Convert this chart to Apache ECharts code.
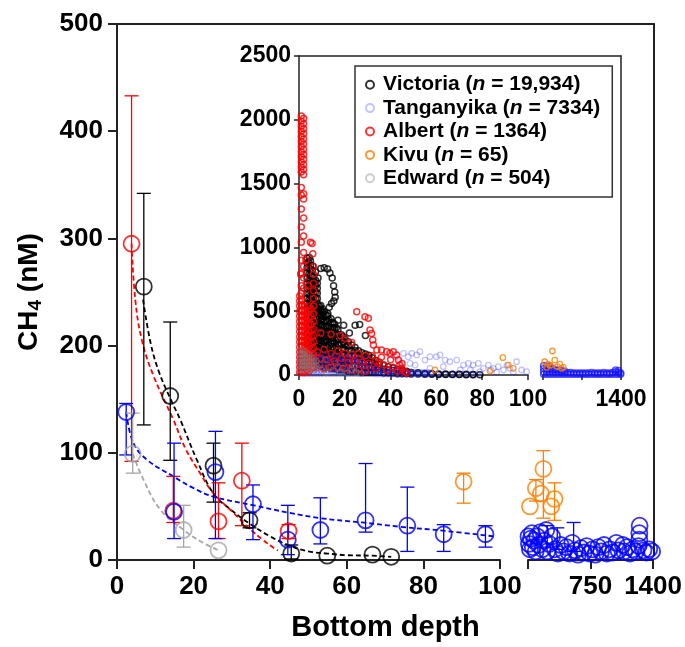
<!DOCTYPE html>
<html>
<head>
<meta charset="utf-8">
<script src="https://cdn.jsdelivr.net/npm/echarts@6/dist/echarts.min.js"></script>
<style>
  html, body { margin: 0; padding: 0; background: #fff; }
  #chart { width: 685px; height: 647px; }
</style>
</head>
<body>
<div id="chart"></div>
<script>
const FONT = "'Liberation Sans', Arial, sans-serif";

// ---- main panel: means (depth bin, CH4) ----
const victoriaMeans = [[7, 255], [13.9, 153], [25.2, 88], [34.6, 37], [45.5, 6], [54.9, 4], [66.7, 5], [71.6, 3]];
const victoriaErr = [[7, 126, 342], [13.9, 93, 222], [25.2, 54, 109], [34.6, 30, 44], [45.5, 1, 14]];
const victoriaFit = [[6.8, 243], [8.8, 202], [11, 175], [14, 150], [16.5, 131], [20.9, 93], [25.2, 62], [30.4, 45], [34.6, 34], [40, 22], [45.3, 13], [50, 8], [55, 6], [60, 4.5], [66.7, 4], [71.6, 3]];

const albertMeans = [[3.8, 295], [14.7, 46], [26.5, 36], [32.6, 74], [44.8, 27]];
const albertErr = [[3.8, 92, 433], [14.7, 35, 78], [26.5, 20, 72], [32.6, 32, 109], [44.8, 20, 33]];
const albertFit = [[3.8, 295], [4.8, 242], [6.5, 205], [9.5, 172], [14.7, 131], [18, 103], [21.7, 81], [25, 63], [30.4, 44], [35, 28], [38, 19], [41, 11], [42, 9]];

const tanganyikaMeans = [[2.4, 138], [14.9, 45], [25.7, 82], [35.5, 52], [44.6, 19], [53.1, 28], [64.9, 37], [75.8, 32], [85.3, 24], [96.2, 24]];
const tanganyikaErr = [[2.4, 98, 146], [14.9, 20, 109], [25.7, 20, 120], [35.5, 19, 70], [44.6, 5, 51], [53.1, 15, 58], [64.9, 26, 90], [75.8, 8, 68], [85.3, 8, 33], [96.2, 12, 32]];
const tanganyikaFit = [[2.4, 138], [4.3, 109], [8, 93], [14.7, 78], [20, 67], [25.2, 59], [35.7, 51], [45, 44], [53.1, 39], [64, 35], [74, 31], [86, 27], [98.5, 22]];
const tanganyikaFarMeans = [[105, 22], [110, 15], [120, 10], [130, 20], [140, 25], [150, 12], [165, 18], [180, 8], [195, 22], [210, 14], [230, 26], [250, 10], [270, 18], [290, 28], [300, 8], [320, 15], [350, 22], [380, 10], [410, 6], [440, 14], [470, 8], [500, 12], [530, 6], [560, 16], [590, 9], [620, 5], [650, 11], [680, 7], [710, 13], [740, 6], [770, 10], [800, 5], [830, 12], [860, 8], [890, 14], [920, 6], [950, 10], [980, 7], [1018, 16], [1040, 9], [1086, 14], [1100, 8], [1130, 12], [1160, 6], [1190, 10], [1220, 8], [1250, 13], [1257, 19], [1257, 25], [1260, 32], [1300, 9], [1330, 7], [1360, 10], [1390, 8]];
const tanganyikaFarErr = [[300, 12, 32], [404, 10, 30], [574, 8, 35]];

const edwardMeans = [[4.1, 99], [17.4, 28], [26.5, 9]];
const edwardErr = [[4.1, 81, 137], [17.4, 12, 51]];
const edwardFit = [[4.1, 99], [6.9, 75], [11.3, 47], [17.4, 28], [22, 17], [26.5, 9]];

const kivuMeans = [[90.5, 73]];
const kivuErr = [[90.5, 53, 81]];
const kivuFarMeans = [[120, 50], [182, 67], [233, 62], [260, 85], [342, 50], [376, 57]];
const kivuFarErr = [[260, 39, 102], [182, 55, 75], [376, 37, 72]];

// ---- inset: individual samples ----
const victoriaInsetCols = [
  [3.5, [120, 160, 200, 240, 280, 320, 360, 400, 440, 480, 520, 560, 600, 640, 680, 720, 760, 800, 840, 880, 915]],
  [4.3, [140, 190, 240, 290, 340, 390, 440, 490, 540, 590, 640, 690, 740, 790, 840, 880]],
  [5, [100, 140, 180, 220, 260, 300, 340, 380, 420, 460, 500, 540, 580, 620, 660, 700, 740, 780, 820, 860, 895]],
  [5.8, [120, 170, 220, 270, 320, 370, 420, 470, 520, 570, 620, 670, 720, 770, 820]],
  [6.5, [90, 130, 170, 210, 250, 290, 330, 370, 410, 450, 490, 530, 570, 610, 650, 690, 730, 770]],
  [7.3, [100, 150, 200, 250, 300, 350, 400, 450, 500, 550, 600, 650, 700, 740]],
  [8, [80, 120, 160, 200, 240, 280, 320, 360, 400, 440, 480, 520, 560, 600, 640, 680, 720]],
  [8.8, [100, 150, 200, 250, 300, 350, 400, 450, 500, 540]],
  [9.5, [70, 110, 150, 190, 230, 270, 310, 350, 390, 430, 470, 510, 545]],
  [10.2, [90, 140, 190, 240, 290, 340, 390, 440, 490, 520]],
  [11, [60, 100, 140, 180, 220, 260, 300, 340, 380, 420, 460, 495]],
  [11.8, [80, 130, 180, 230, 280, 330, 380, 430, 470]],
  [12.5, [60, 100, 140, 180, 220, 260, 300, 340, 380, 420, 465]],
  [13.2, [80, 130, 180, 230, 280, 330, 380, 430]],
  [14, [50, 90, 130, 170, 210, 250, 290, 330, 370, 410, 440]],
  [14.8, [70, 120, 170, 220, 270, 320, 370, 410]],
  [15.5, [50, 90, 130, 170, 210, 250, 290, 330, 370, 400]],
  [16.3, [70, 120, 170, 220, 270, 320, 370]],
  [17, [40, 80, 120, 160, 200, 240, 280, 320, 355]],
  [18.5, [40, 80, 120, 160, 200, 240, 280, 315]],
  [19.3, [60, 110, 160, 210, 260, 300]],
  [20, [40, 80, 120, 160, 200, 240, 285]],
  [21.5, [30, 70, 110, 150, 190, 230, 260]],
  [23, [30, 70, 110, 150, 190, 235]],
  [24.5, [30, 70, 110, 150, 190, 215]],
  [26, [30, 70, 110, 150, 190]],
  [27.5, [20, 60, 100, 140, 175]],
  [29, [20, 60, 100, 140, 165]],
  [30.5, [20, 60, 100, 130, 155]],
  [32, [20, 60, 100, 135]],
  [33.5, [20, 50, 80, 115]],
  [35, [20, 50, 80, 100]],
  [37, [15, 45, 75]],
  [39, [15, 40, 65]],
  [41, [15, 35, 55]],
  [43, [10, 30, 45]],
  [45, [10, 25, 40]],
  [47, [10, 20, 30]],
  [49, [8, 20]], [52, [8, 18]], [55, [5, 12]], [58, [5, 10]], [61, [4, 8]], [64, [4, 8]],
  [67, [3, 6]], [70, [3, 6]], [73, [2, 5]], [76, [2, 4]], [79, [2]]
];
const victoriaInsetSparse = [[4.5, 920], [6, 855], [7.2, 810], [8.3, 760], [9.5, 835], [11, 840], [12.5, 830], [13.5, 800], [14.5, 760], [15.1, 700], [15.6, 650], [15.8, 610], [15.2, 580], [14.2, 560], [13.2, 530], [12.6, 480], [17, 430], [19.5, 390], [24.5, 390], [26.5, 395], [29, 310], [22, 330]];

const albertInsetCols = [
  [0.3, [20, 60, 100, 140, 180, 220, 260, 300, 340, 380, 420, 460, 500, 540, 580, 620]],
  [1.3, [30, 70, 110, 150, 190, 230, 270, 310, 350, 390, 430, 470, 510, 550, 590]],
  [2.3, [20, 60, 100, 140, 180, 220, 260, 300, 340, 380, 420, 460, 500, 540]],
  [3.3, [40, 80, 120, 160, 200, 240, 280, 320, 360, 400, 440, 480]],
  [4.3, [30, 70, 110, 150, 190, 230, 270, 310, 350, 400, 450, 500, 540]],
  [5.3, [50, 90, 130, 170, 210, 250, 300, 350, 400, 460, 520]],
  [6.3, [60, 110, 160, 210, 260, 310, 360, 420, 480, 540, 600, 660, 720, 790, 850]],
  [1.0, [2030, 1990, 1950, 1910, 1870, 1830, 1790, 1750, 1710, 1670, 1630, 1590, 1470, 1410, 1300, 1160, 1040, 900, 800, 700, 640]],
  [2.0, [2010, 1970, 1930, 1890, 1850, 1810, 1770, 1730, 1690, 1650, 1610, 1570, 1420, 1380, 1230, 1090, 960, 850, 760, 680]]
];
const albertInsetSparse = [[5, 1040], [5.7, 1030], [6, 950], [3, 900], [0.7, 790], [4, 700],
  [8, 180], [8, 60], [9.5, 130], [9.5, 330], [11, 200], [11, 50], [12.5, 120],
  [14, 170], [14, 60], [14, 320], [15.5, 110], [17, 190], [17, 60], [18, 310], [18.5, 130],
  [20, 170], [20, 50], [20, 285], [21.5, 100], [23, 160], [23, 40], [23, 255],
  [24.5, 110], [25.2, 496], [26, 170], [26, 40], [27.5, 100], [28.8, 457], [29, 150],
  [29, 30], [30.3, 444], [30.5, 90], [31, 352], [31.7, 326], [32, 150], [32.2, 274],
  [32.5, 235], [33.5, 110], [33.5, 50], [34, 196], [35, 100], [36, 196], [36, 140], [37, 80], [38.3, 183], [38.5, 40],
  [39.7, 170], [40, 120], [41.2, 183], [41, 60], [42.6, 157], [43.4, 117], [44, 78], [44.8, 52], [46.3, 26], [45, 90],
  [43, 30], [47, 15]];

const tanganyikaInsetCols = [
  [0.5, [10, 35, 60, 85, 110, 135, 160]], [2, [10, 35, 60, 85, 110, 135, 160]], [3.5, [10, 35, 60, 85, 110, 135, 165]],
  [5, [10, 35, 60, 85, 110, 140, 170]], [6.5, [10, 35, 60, 85, 110, 135, 160]], [8, [10, 35, 60, 85, 110, 135, 155]],
  [9.5, [10, 35, 60, 85, 115, 140, 160]], [11, [10, 40, 70, 100, 125, 150]], [12.5, [10, 40, 70, 100, 125, 150]],
  [14, [10, 40, 70, 100, 125, 145]], [15.5, [10, 40, 70, 100, 125, 150]], [17, [10, 40, 70, 100, 120, 145]],
  [18.5, [10, 40, 70, 100, 125, 150]], [20, [10, 40, 70, 100, 125, 145]], [21.5, [10, 40, 70, 100, 120, 140]],
  [23, [10, 40, 70, 100, 125, 145]], [24.5, [10, 40, 70, 100, 120, 140]], [26, [10, 40, 70, 100, 125]],
  [27.5, [10, 40, 70, 100, 120]], [29, [10, 40, 70, 95, 120]], [30.5, [10, 40, 70, 95]], [32, [10, 35, 60, 85]],
  [33.5, [8, 25, 45, 70]], [35, [8, 25, 45]], [36.5, [8, 25, 45]], [38, [8, 25, 45]], [39.5, [8, 25, 40]],
  [41, [8, 25, 40]], [42.5, [8, 25, 40]], [44, [8, 25, 40]], [45.5, [8, 25]], [47, [8, 25]], [48.5, [8, 25]],
  [50, [8, 20]], [51.5, [8, 20]], [53, [8, 20]], [54.5, [8, 20]], [56, [8, 20]], [57.5, [8, 18]],
  [60, [8]], [63, [8]], [66, [6]], [69, [8]], [72, [6]], [75, [8]], [78, [6]]
];
const tanganyikaInsetSparse = [[45.6, 170], [47.7, 144], [49.2, 170], [51.4, 157], [52.8, 183], [55, 117], [57.2, 144], [60, 144],
  [61.6, 157], [63.8, 117], [65.9, 104], [68.9, 117], [71.8, 78], [74, 91], [76, 78], [78.3, 91], [80.5, 52], [82.7, 78],
  [84.9, 52], [87, 65], [89.3, 39], [92, 52], [95, 104], [97.2, 39], [99.4, 26], [39.7, 157], [41.9, 144], [44, 104],
  [48.5, 91], [50.7, 78], [57.2, 52], [63, 65], [70.4, 39], [74.8, 39], [79, 26], [86.3, 21], [93.6, 18], [83.8, 39], [90.8, 78]];
const tanganyikaInsetFarCols = [
  [110, [5, 25, 50, 75]], [160, [5, 25, 50, 70]], [210, [5, 25, 45, 70]], [260, [5, 25, 50]], [310, [5, 20, 40]],
  [360, [5, 20, 40]], [410, [5, 20, 35]], [460, [5, 20, 30]], [510, [5, 20]], [560, [5, 20]], [610, [5, 15]],
  [660, [5, 15]], [710, [5, 15]], [760, [5, 15]], [810, [5, 15]], [860, [5, 15]], [910, [5, 20]], [960, [5, 15]],
  [1010, [5, 15]], [1060, [5, 15]], [1110, [5, 20]], [1160, [5, 15]], [1210, [5, 15]], [1260, [5, 20]],
  [1310, [5, 25, 40]], [1360, [5, 20, 35]], [1395, [5, 15]]
];

const kivuInset = [[59.4, 39], [83.4, 31], [89, 136], [91.4, 78], [93.6, 52]];
const kivuInsetFar = [[128, 104], [257, 188], [184, 86], [296, 117], [380, 86], [408, 52], [160, 60], [220, 75], [340, 65], [440, 60]];

const edwardInsetCols = [
  [0.5, [40, 70, 100, 130, 160, 190]], [1.5, [45, 75, 105, 135, 165, 195]], [2.5, [40, 70, 100, 130, 160, 185]],
  [3.5, [50, 80, 110, 140, 170]], [4.5, [40, 70, 100, 130, 160]], [5.5, [50, 80, 110, 140]],
  [6.5, [40, 70, 100, 130]], [7.5, [50, 80, 110]]
];
const edwardInsetSparse = [[9, 80], [10, 40], [11.5, 120], [12, 20], [13, 60], [15, 35], [16, 90], [18, 25], [19, 55], [21, 15], [23, 40], [25, 20], [27, 10], [24, 60]];

const lakeNames = ["Victoria", "Tanganyika", "Albert", "Kivu", "Edward"];
const lakeCounts = ["19,934", "7334", "1364", "65", "504"];

const BLACK = "#000000";
const RED = "#ff0000";
const BLUE = "#0000ff";
const GRAY = "#a6a6a6";
const ORANGE = "#ff8000";

function unfold(cols) {
  return cols.flatMap(([x, ys]) => ys.map((y) => [x, y]));
}

const chart = echarts.init(document.getElementById("chart"));

function errorBars(name, data, color, xi, yi) {
  return {
    name,
    type: "custom",
    xAxisIndex: xi,
    yAxisIndex: yi,
    data,
    z: 3,
    renderItem(params, api) {
      const x = api.value(0);
      const top = api.coord([x, api.value(2)]);
      const bot = api.coord([x, api.value(1)]);
      const half = 7;
      const style = { stroke: color, lineWidth: 1.3 };
      return {
        type: "group",
        children: [
          { type: "line", shape: { x1: top[0], y1: top[1], x2: bot[0], y2: bot[1] }, style },
          { type: "line", shape: { x1: top[0] - half, y1: top[1], x2: top[0] + half, y2: top[1] }, style },
          { type: "line", shape: { x1: bot[0] - half, y1: bot[1], x2: bot[0] + half, y2: bot[1] }, style },
        ],
      };
    },
  };
}

function means(name, data, color, xi, yi) {
  return {
    name,
    type: "scatter",
    xAxisIndex: xi,
    yAxisIndex: yi,
    data,
    z: 4,
    symbol: "circle",
    symbolSize: 16,
    itemStyle: { color: "rgba(0,0,0,0)", borderColor: color, borderWidth: 1.8 },
  };
}

function fit(name, data, color) {
  return {
    name,
    type: "line",
    xAxisIndex: 0,
    yAxisIndex: 0,
    data,
    smooth: 0.4,
    symbol: "none",
    z: 2,
    lineStyle: { color, width: 1.8, type: [5, 3] },
  };
}

function samples(name, data, color, xi, yi, z, size = 5.5, width = 1.3) {
  return {
    name,
    type: "scatter",
    xAxisIndex: xi,
    yAxisIndex: yi,
    data,
    z,
    progressive: 0,
    symbol: "circle",
    symbolSize: size,
    itemStyle: { color: "rgba(0,0,0,0)", borderColor: color, borderWidth: width },
  };
}

const tickLabel = (size) => ({ fontSize: size, fontWeight: "bold", color: "#000", fontFamily: FONT, formatter: (v) => String(v) });
const line = (w) => ({ onZero: false, lineStyle: { color: "#222", width: w } });

const mainX = {
  type: "value",
  axisLine: line(2),
  axisTick: { length: 9, lineStyle: { color: "#222", width: 2 } },
  axisLabel: { ...tickLabel(26), margin: 14 },
  splitLine: { show: false },
};
const insetX = {
  type: "value",
  axisLine: line(1.5),
  axisTick: { length: 5, lineStyle: { color: "#222", width: 1.5 } },
  axisLabel: { ...tickLabel(23), margin: 13 },
  splitLine: { show: false },
};
const frameAxis = {
  type: "value",
  min: 0,
  max: 1,
  axisLine: line(2),
  axisTick: { show: false },
  axisLabel: { show: false },
  splitLine: { show: false },
};

chart.setOption({
  animation: false,
  backgroundColor: "#fff",
  grid: [
    { left: 117, top: 24, width: 383, height: 536 },
    { left: 528, top: 24, width: 126, height: 536 },
    { left: 117, top: 24, width: 537, height: 536 },
    { left: 299, top: 56, width: 229, height: 319 },
    { left: 543, top: 56, width: 78, height: 319 },
    { left: 299, top: 56, width: 322, height: 319 },
  ],
  xAxis: [
    { ...mainX, gridIndex: 0, min: 0, max: 100, interval: 20 },
    {
      ...mainX,
      gridIndex: 1,
      min: 100,
      max: 1400,
      interval: 650,
      axisLabel: { ...mainX.axisLabel, formatter: (v) => (v === 100 ? "" : String(v)) },
    },
    { ...frameAxis, gridIndex: 2, position: "top" },
    {
      ...frameAxis,
      gridIndex: 2,
      position: "bottom",
      axisLine: { show: false, onZero: false },
      name: "Bottom depth",
      nameLocation: "middle",
      nameGap: 58,
      nameTextStyle: { fontSize: 29, fontWeight: "bold", color: "#000", fontFamily: FONT },
    },
    { ...insetX, gridIndex: 3, min: 0, max: 100, interval: 20 },
    {
      ...insetX,
      gridIndex: 4,
      min: 100,
      max: 1400,
      interval: 650,
      axisLabel: { ...insetX.axisLabel, formatter: (v) => (v === 1400 ? "1400" : "") },
    },
    { ...frameAxis, gridIndex: 5, position: "top", axisLine: line(1.5) },
  ],
  yAxis: [
    {
      ...mainX,
      gridIndex: 0,
      min: 0,
      max: 500,
      interval: 100,
      axisLabel: { ...tickLabel(26), margin: 14 },
      name: "{t|CH}{s|4}{t| (nM)}",
      nameLocation: "middle",
      nameRotate: 90,
      nameGap: 72,
      nameTextStyle: {
        rich: {
          t: { fontSize: 28, fontWeight: "bold", color: "#000", fontFamily: FONT },
          s: { fontSize: 19, fontWeight: "bold", color: "#000", fontFamily: FONT, padding: [12, 0, 0, 0] },
        },
      },
    },
    { type: "value", gridIndex: 1, min: 0, max: 500, show: false },
    { ...frameAxis, gridIndex: 2, position: "right" },
    { ...insetX, gridIndex: 3, min: 0, max: 2500, interval: 500, axisLabel: { ...insetX.axisLabel, margin: 8 } },
    { type: "value", gridIndex: 4, min: 0, max: 2500, show: false },
    { ...frameAxis, gridIndex: 5, position: "right", axisLine: line(1.5) },
  ],
  legend: {
    data: lakeNames,
    orient: "vertical",
    left: 355,
    top: 66,
    itemGap: 0,
    itemWidth: 8,
    itemHeight: 8,
    padding: [7, 12, 7, 10],
    borderColor: "#333",
    borderWidth: 1.5,
    backgroundColor: "#fff",
    formatter: (name) => `${name} ({i|n} = ${lakeCounts[lakeNames.indexOf(name)]})`,
    textStyle: {
      fontSize: 21,
      fontWeight: "bold",
      color: "#000",
      fontFamily: FONT,
      lineHeight: 23.4,
      padding: [0, 0, 0, 4],
      rich: { i: { fontSize: 21, fontWeight: "bold", fontStyle: "italic", color: "#000", fontFamily: FONT, lineHeight: 23.4 } },
    },
  },
  series: [
    // inset samples
    samples("Victoria", unfold(victoriaInsetCols).concat(victoriaInsetSparse), BLACK, 4, 3, 5, 6, 1.5),
    samples("Tanganyika", unfold(tanganyikaInsetCols).concat(tanganyikaInsetSparse), "rgba(40,40,255,0.35)", 4, 3, 6),
    samples("Tanganyika", unfold(tanganyikaInsetFarCols), "rgba(20,20,255,0.85)", 5, 4, 6, 6, 1.5),
    samples("Albert", unfold(albertInsetCols).concat(albertInsetSparse), RED, 4, 3, 7, 6, 1.5),
    samples("Kivu", kivuInset, ORANGE, 4, 3, 8),
    samples("Kivu", kivuInsetFar, ORANGE, 5, 4, 8),
    samples("Edward", unfold(edwardInsetCols).concat(edwardInsetSparse), "rgba(128,128,128,0.5)", 4, 3, 9),

    // main fits
    fit("Victoria fit", victoriaFit, BLACK),
    fit("Albert fit", albertFit, RED),
    fit("Tanganyika fit", tanganyikaFit, BLUE),
    fit("Edward fit", edwardFit, GRAY),

    // main error bars
    errorBars("Victoria sd", victoriaErr, BLACK, 0, 0),
    errorBars("Albert sd", albertErr, RED, 0, 0),
    errorBars("Tanganyika sd", tanganyikaErr, BLUE, 0, 0),
    errorBars("Edward sd", edwardErr, GRAY, 0, 0),
    errorBars("Kivu sd", kivuErr, ORANGE, 0, 0),
    errorBars("Tanganyika far sd", tanganyikaFarErr, BLUE, 1, 1),
    errorBars("Kivu far sd", kivuFarErr, ORANGE, 1, 1),

    // main means
    means("Victoria mean", victoriaMeans, BLACK, 0, 0),
    means("Albert mean", albertMeans, RED, 0, 0),
    means("Tanganyika mean", tanganyikaMeans, BLUE, 0, 0),
    means("Edward mean", edwardMeans, GRAY, 0, 0),
    means("Kivu mean", kivuMeans, ORANGE, 0, 0),
    means("Tanganyika far mean", tanganyikaFarMeans, BLUE, 1, 1),
    means("Kivu far mean", kivuFarMeans, ORANGE, 1, 1),
  ],
});

window.addEventListener("resize", () => chart.resize());
</script>
</body>
</html>
